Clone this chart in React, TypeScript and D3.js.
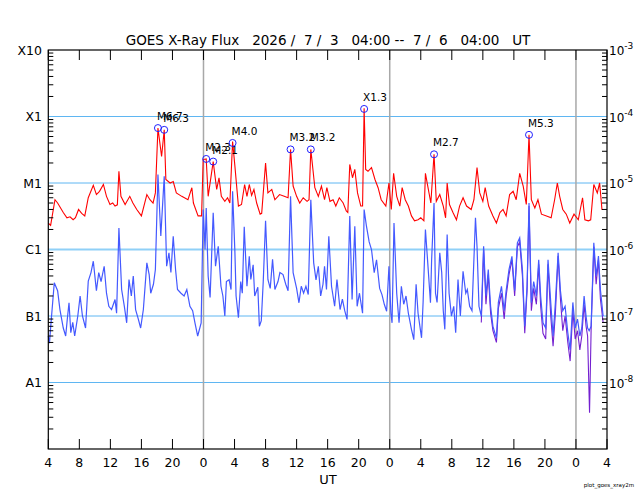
import * as d3 from "d3"
import React from "react"

// time in hours after 2026/7/3 04:00 UT, flux in units of 1e-6 W/m^2
const longChannel: [number, number][] = [
  [0, 2.5], [0.3, 2.3], [0.86, 5.6], [1.2, 5.0], [1.93, 3.6], [2.4, 3.0], [2.8, 3.1],
  [3.2, 2.8], [3.5, 3.0], [3.9, 4.0], [4.3, 3.5], [4.7, 3.2], [5.15, 6.0], [5.8, 9.2],
  [6.2, 6.7], [6.6, 7.5], [7.1, 9.5], [7.5, 6.3], [7.95, 4.75], [8.3, 5.0], [8.6, 4.5],
  [8.9, 4.7], [9.1, 15], [9.36, 6.3], [9.9, 4.75], [10.5, 6.3], [10.9, 5.0], [11.4, 4.0],
  [12.0, 3.2], [12.7, 6.7], [13.1, 5.6], [13.5, 5.0], [13.8, 7.1], [14.13, 67], [14.6, 25],
  [14.94, 63], [15.15, 11.3], [15.7, 10], [16.1, 10.5], [16.5, 7.1], [17.2, 6.3], [18.0, 5.6],
  [18.5, 8.5], [18.7, 5.0], [19.3, 3.2], [19.75, 3.2], [19.96, 22.5], [20.35, 23], [20.6, 6.3],
  [21.25, 21], [21.7, 8], [22.0, 12], [22.3, 6.3], [22.75, 5.3], [23.1, 6.0], [23.4, 5.0],
  [23.75, 42], [24.05, 17.8], [24.5, 4.5], [24.9, 4.75], [25.3, 9.5], [25.6, 6.3], [25.9, 9.5],
  [26.2, 6.5], [26.5, 8], [26.85, 5], [27.3, 3.4], [27.5, 3.5], [28.0, 20], [28.3, 7.1],
  [28.8, 8], [29.2, 5.6], [29.8, 6.7], [30.4, 6.3], [30.9, 6], [31.22, 32], [31.55, 9],
  [32.0, 6.3], [32.4, 5], [32.85, 6], [33.35, 5.3], [33.6, 5.6], [33.83, 32], [34.35, 8.5],
  [34.8, 6.3], [35.2, 9], [35.6, 5.6], [35.9, 8.5], [36.3, 5.3], [36.7, 5.6], [37.05, 4.5],
  [37.5, 6.0], [38.0, 5.0], [38.4, 3.8], [38.6, 3.6], [38.85, 19], [39.2, 12], [39.5, 16],
  [39.85, 7.1], [40.27, 4.5], [40.5, 4.5], [40.7, 133], [40.9, 16], [41.2, 15], [41.65, 17],
  [42.1, 11.3], [42.5, 8.5], [42.9, 5.6], [43.5, 4.5], [43.9, 10], [44.2, 4], [44.5, 14],
  [44.9, 6.3], [45.3, 4.5], [45.6, 8.5], [46.0, 5.6], [46.4, 4.5], [46.8, 3.2], [47.2, 2.7],
  [47.65, 2.8], [48.0, 3.0], [48.4, 2.7], [48.6, 14], [48.9, 9], [49.3, 5], [49.71, 27],
  [50.0, 5.3], [50.45, 6.7], [50.9, 4.5], [51.2, 3.0], [51.4, 10], [51.7, 4.75], [52.15, 3.6],
  [52.6, 2.8], [53.0, 4.5], [53.45, 6.0], [53.9, 4.5], [54.5, 4.0], [54.85, 5.6], [55.25, 17],
  [55.6, 7.1], [56.0, 5.3], [56.3, 8.5], [56.75, 4.5], [57.3, 3.2], [57.75, 2.5], [58.2, 3.6],
  [58.6, 4.0], [59.0, 3.2], [59.45, 6.7], [59.9, 7.5], [60.3, 5.6], [60.75, 14], [61.2, 9],
  [61.6, 4.75], [61.95, 53], [62.25, 5.6], [62.7, 4.2], [63.1, 5.6], [63.55, 3.4], [64.2, 3.2],
  [64.8, 3.0], [65.25, 5.6], [65.6, 10], [65.9, 6.3], [66.3, 4.0], [66.75, 3.4], [67.2, 2.5],
  [67.75, 3.4], [68.3, 2.8], [68.85, 6.0], [69.15, 2.8], [69.6, 2.7], [69.9, 2.8], [70.3, 9.5],
  [70.75, 7.1], [71.05, 10], [71.35, 4.0], [71.5, 4.0],
]

const shortChannel: [number, number][] = [
  [0, 0.05], [0.15, 0.039], [0.35, 0.079], [0.77, 0.316], [1.2, 0.24], [1.5, 0.125],
  [1.93, 0.066], [2.24, 0.05], [2.45, 0.09], [2.67, 0.158], [2.9, 0.056], [3.15, 0.08],
  [3.4, 0.05], [3.8, 0.1], [4.1, 0.2], [4.4, 0.1], [4.8, 0.066], [5.15, 0.334], [5.5, 0.45],
  [5.8, 0.667], [6.2, 0.24], [6.5, 0.45], [6.8, 0.33], [7.2, 0.56], [7.5, 0.22], [7.8, 0.14],
  [8.15, 0.125], [8.6, 0.177], [8.8, 0.11], [9.1, 2.1], [9.45, 0.25], [9.8, 0.14], [10.1, 0.079],
  [10.4, 0.354], [10.7, 0.2], [10.95, 0.4], [11.25, 0.125], [11.6, 0.09], [11.9, 0.066],
  [12.25, 0.125], [12.7, 0.63], [13.0, 0.42], [13.2, 0.22], [13.55, 0.3], [13.8, 0.5],
  [14.13, 13.4], [14.5, 1.6], [14.94, 12.6], [15.25, 0.56], [15.55, 0.89], [15.8, 0.45],
  [16.1, 1.58], [16.4, 0.5], [16.65, 0.25], [17.1, 0.22], [17.5, 0.2], [17.85, 0.25],
  [18.25, 0.14], [18.6, 0.12], [18.9, 0.079], [19.25, 0.05], [19.7, 0.079], [19.96, 4.0],
  [20.2, 1.0], [20.35, 4.2], [20.6, 0.4], [20.85, 0.19], [21.25, 3.56], [21.55, 0.56],
  [21.9, 1.12], [22.25, 0.28], [22.5, 0.2], [22.75, 0.1], [22.95, 0.33], [23.3, 0.35],
  [23.55, 0.25], [23.75, 7.5], [24.05, 0.89], [24.2, 0.2], [24.5, 0.094], [24.8, 0.33],
  [25.0, 0.22], [25.25, 2.2], [25.6, 0.28], [25.9, 0.79], [26.1, 0.354], [26.4, 0.59],
  [26.6, 0.2], [27.0, 0.27], [27.2, 0.07], [27.45, 0.085], [27.7, 0.33], [28.0, 2.7],
  [28.3, 0.354], [28.6, 0.26], [28.9, 0.71], [29.2, 0.25], [29.6, 0.33], [29.85, 0.45],
  [30.25, 0.42], [30.6, 0.3], [30.9, 0.24], [31.22, 6.3], [31.55, 0.45], [32.0, 0.26],
  [32.3, 0.158], [32.6, 0.28], [32.9, 0.22], [33.2, 0.28], [33.5, 0.21], [33.83, 5.6],
  [34.2, 0.63], [34.5, 0.35], [34.8, 0.56], [35.1, 0.2], [35.4, 0.3], [35.6, 0.56],
  [35.85, 0.25], [36.15, 1.58], [36.5, 0.28], [36.9, 0.14], [37.2, 0.354], [37.6, 0.125],
  [37.9, 0.18], [38.2, 0.12], [38.5, 0.089], [38.85, 3.2], [39.15, 0.177], [39.5, 2.24],
  [39.8, 0.14], [40.1, 0.22], [40.5, 0.11], [40.7, 4.0], [41.0, 2.24], [41.35, 1.3],
  [41.65, 1.0], [42.0, 0.45], [42.3, 0.7], [42.7, 0.26], [43.0, 0.21], [43.3, 0.15],
  [43.6, 0.118], [43.9, 0.56], [44.15, 0.11], [44.3, 0.079], [44.55, 2.5], [44.9, 0.22],
  [45.2, 0.079], [45.5, 0.28], [45.8, 0.15], [46.1, 0.2], [46.4, 0.11], [46.8, 0.063],
  [47.1, 0.044], [47.4, 0.3], [47.65, 0.11], [48.1, 0.047], [48.3, 0.16], [48.6, 2.0],
  [48.9, 0.63], [49.25, 0.158], [49.4, 0.7], [49.71, 5.0], [49.9, 0.22], [50.1, 0.16],
  [50.45, 0.89], [50.7, 0.45], [50.9, 0.12], [51.1, 0.063], [51.4, 1.68], [51.65, 0.22],
  [51.95, 0.1], [52.25, 0.14], [52.5, 0.056], [52.8, 0.354], [53.1, 0.1], [53.45, 0.47],
  [53.8, 0.22], [54.0, 0.25], [54.3, 0.14], [54.6, 0.12], [55.05, 3.0], [55.25, 1.1],
  [55.5, 0.14], [55.8, 0.1], [56.1, 1.12], [56.4, 0.2], [56.7, 0.5], [57.0, 0.14],
  [57.3, 0.07], [57.75, 0.047], [58.0, 0.16], [58.4, 0.28], [58.75, 0.12], [59.0, 0.24],
  [59.37, 0.5], [59.75, 0.79], [60.1, 0.24], [60.45, 1.26], [60.75, 1.5], [61.1, 0.5],
  [61.4, 0.07], [61.7, 0.28], [61.95, 5.0], [62.25, 0.158], [62.55, 0.33], [62.9, 0.2],
  [63.2, 0.7], [63.45, 0.2], [63.75, 0.079], [64.1, 0.066], [64.4, 0.7], [64.75, 0.16],
  [65.05, 0.05], [65.35, 0.16], [65.7, 0.89], [66.0, 0.24], [66.3, 0.12], [66.6, 0.14],
  [66.95, 0.056], [67.25, 0.031], [67.6, 0.16], [67.9, 0.066], [68.2, 0.09], [68.5, 0.05],
  [68.75, 0.066], [69.05, 0.2], [69.3, 0.1], [69.5, 0.066], [69.7, 0.06], [69.95, 0.07],
  [70.3, 1.26], [70.6, 0.4], [70.9, 0.8], [71.15, 0.25], [71.5, 0.1],
]

// second short-channel trace (purple), drawn under the blue one and seen where it is lower
const shortSecondary: [number, number][] = [
  [55.8, 0.08], [56.1, 1.0], [56.4, 0.15], [56.7, 0.42], [57.0, 0.11], [57.3, 0.06],
  [57.75, 0.04], [58.0, 0.13], [58.4, 0.22], [58.75, 0.09], [59.0, 0.2], [59.37, 0.42],
  [59.75, 0.7], [60.1, 0.2], [60.45, 1.1], [60.75, 1.3], [61.1, 0.4], [61.4, 0.055],
  [61.7, 0.24], [61.95, 4.5], [62.25, 0.12], [62.55, 0.26], [62.9, 0.15], [63.2, 0.6],
  [63.45, 0.14], [63.75, 0.055], [64.1, 0.045], [64.4, 0.6], [64.75, 0.1], [65.05, 0.035],
  [65.35, 0.11], [65.7, 0.8], [66.0, 0.18], [66.3, 0.06], [66.6, 0.1], [66.95, 0.04],
  [67.25, 0.021], [67.6, 0.12], [67.9, 0.045], [68.2, 0.06], [68.5, 0.031], [68.75, 0.05],
  [69.05, 0.15], [69.3, 0.07], [69.5, 0.05], [69.75, 0.0035], [69.95, 0.06], [70.3, 1.1],
  [70.6, 0.3], [70.9, 0.7], [71.15, 0.18], [71.5, 0.08],
]

const flareHours = [14.13, 14.94, 20.35, 21.25, 23.75, 31.22, 33.83, 40.7, 49.71, 61.95]
const flareClasses = ["M6.7", "M6.3", "M2.3", "M2.1", "M4.0", "M3.2", "M3.2", "X1.3", "M2.7", "M5.3"]

const classNames = ["X10", "X1", "M1", "C1", "B1", "A1"]
const classLevels = [1000, 100, 10, 1, 0.1, 0.01]
const powerLabels = ["-3", "-4", "-5", "-6", "-7", "-8"]

const hourTicks = d3.range(0, 73, 4)
const dayBreaks = [20, 44, 68]

const classBase: Record<string, number> = { A: 0.01, B: 0.1, C: 1, M: 10, X: 100 }
const classToFlux = (c: string) => classBase[c[0]] * parseFloat(c.slice(1))

const W = 640, H = 500
const left = 48.3, right = 607, top = 50, bottom = 449
const font = "'DejaVu Sans', sans-serif"

export default function App() {
  const x = d3.scaleLinear().domain([0, 72]).range([left, right])
  const y = d3.scaleLog().domain([0.001, 1000]).range([bottom, top])

  const line = d3.line<[number, number]>()
    .x(d => x(d[0]))
    .y(d => y(d[1]))

  // minor log ticks 2..9 inside each decade
  const minor: number[] = []
  for (let e = -3; e < 3; e++) {
    for (let k = 2; k <= 9; k++) minor.push(k * Math.pow(10, e))
  }

  return (
    <div style={{ position: "absolute", left: 0, top: 0 }}>
      <svg width={W} height={H} style={{ display: "block", background: "#fff" }} fontFamily={font}>
        <text x={328} y={45} textAnchor="middle" fontSize={13.5} xmlSpace="preserve" style={{ whiteSpace: "pre" }}>
          {"GOES X-Ray Flux   2026 /  7 /  3   04:00 --  7 /  6   04:00   UT"}
        </text>

        {/* class grid lines */}
        {classLevels.slice(1).map((v, i) => (
          <line key={"g" + i} x1={left} x2={right} y1={y(v)} y2={y(v)}
            stroke={v === 1 ? "#8fd0f7" : "#5fb6f2"} strokeWidth={v === 1 ? 2 : 1} />
        ))}
        {dayBreaks.map(h => (
          <line key={"d" + h} x1={x(h)} x2={x(h)} y1={top} y2={bottom} stroke="#a8a8a8" strokeWidth={1.5} />
        ))}

        <path d={line(shortSecondary) ?? ""} fill="none" stroke="#7420d0" strokeWidth={1.1} />
        <path d={line(shortChannel) ?? ""} fill="none" stroke="#4459ff" strokeWidth={1.2} />
        <path d={line(longChannel) ?? ""} fill="none" stroke="#ff0000" strokeWidth={1.1} />

        {flareHours.map((h, i) => {
          const cx = x(h), cy = y(classToFlux(flareClasses[i]))
          return (
            <g key={"f" + i}>
              <circle cx={cx} cy={cy} r={3.5} fill="none" stroke="#2020ff" strokeWidth={1} />
              <text x={cx - 1} y={cy - 8} fontSize={10.5}>{flareClasses[i]}</text>
            </g>
          )
        })}

        {/* frame and ticks */}
        <rect x={left} y={top} width={right - left} height={bottom - top} fill="none" stroke="#000" strokeWidth={1.2} />
        {hourTicks.map(h => (
          <g key={"t" + h}>
            <line x1={x(h)} x2={x(h)} y1={top} y2={top + 10} stroke="#000" />
            <line x1={x(h)} x2={x(h)} y1={bottom} y2={bottom - 10} stroke="#000" />
            <text x={x(h)} y={467} textAnchor="middle" fontSize={12.5}>{(h + 4) % 24}</text>
          </g>
        ))}
        {minor.map((v, i) => (
          <g key={"m" + i}>
            <line x1={left} x2={left + 5} y1={y(v)} y2={y(v)} stroke="#000" />
            <line x1={right} x2={right - 5} y1={y(v)} y2={y(v)} stroke="#000" />
          </g>
        ))}
        {classNames.map((c, i) => (
          <text key={"c" + c} x={42} y={y(classLevels[i]) + 4.5} textAnchor="end" fontSize={12.5}>{c}</text>
        ))}
        {powerLabels.map((p, i) => (
          <text key={"p" + p} x={609} y={y(classLevels[i]) + 5} fontSize={12}>
            10<tspan dy={-6} fontSize={9}>{p}</tspan>
          </text>
        ))}
        <text x={328} y={484} textAnchor="middle" fontSize={13}>UT</text>
        <text x={634} y={487} textAnchor="end" fontSize={5.5}>plot_goes_xray2m</text>
      </svg>
    </div>
  )
}
